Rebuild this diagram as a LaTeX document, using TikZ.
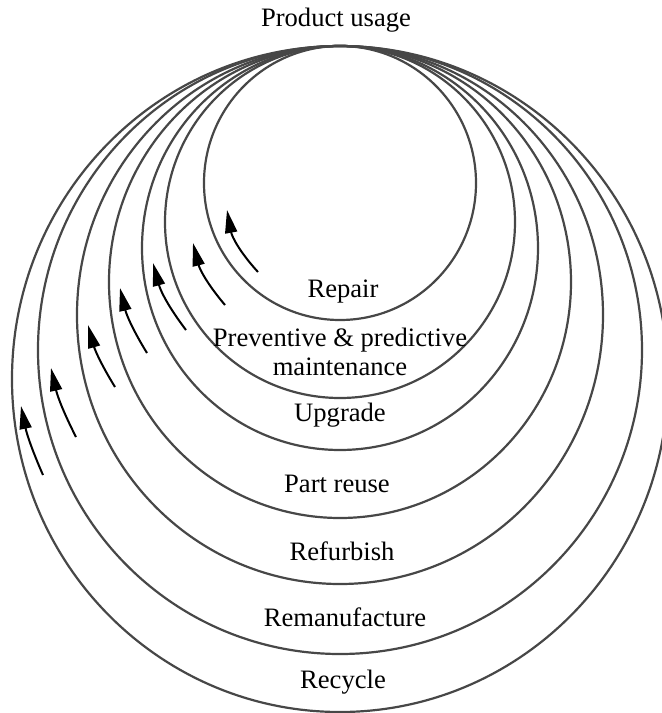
\documentclass[tikz,border=0pt]{standalone}
\usepackage{fontspec}
\setmainfont{Liberation Serif}
\usetikzlibrary{arrows.meta}
\begin{document}
\begin{tikzpicture}[x=0.5pt, y=0.5pt,
        ring/.style={draw=black!72, line width=1.1pt},
        lbl/.style={font=\fontsize{13.3}{14.5}\selectfont, inner sep=0pt, align=center},
        flow/.style={line width=1pt, -{Triangle[length=11.5pt, width=6pt]}}]
            \useasboundingbox (-340,46) rectangle (322,-667);

            \draw[ring] (0,-137) ellipse [x radius=136, y radius=137];
            \draw[ring] (0,-176) ellipse [x radius=175, y radius=176];
            \draw[ring] (0,-202) ellipse [x radius=198, y radius=202];
            \draw[ring] (0,-236) ellipse [x radius=231, y radius=236];
            \draw[ring] (0,-269) ellipse [x radius=263, y radius=269];
            \draw[ring] (0,-304) ellipse [x radius=302, y radius=304];
            \draw[ring] (0,-333) ellipse [x radius=328, y radius=333];

            \node[lbl] (PU) at (-4,26) {Product usage};
            \node[lbl] (RP) at (3,-246) {Repair};
            \node[lbl] (PM) at (0,-306) {Preventive \& predictive\\maintenance};
            \node[lbl] (UG) at (0,-369) {Upgrade};
            \node[lbl] (PR) at (-3,-438) {Part reuse};
            \node[lbl] (RF) at (2,-505) {Refurbish};
            \node[lbl] (RM) at (5,-571) {Remanufacture};
            \node[lbl] (RC) at (3,-636) {Recycle};

            \coordinate (T1) at (-82,-226);  \coordinate (H1) at (-113,-164);
            \coordinate (T2) at (-115,-259); \coordinate (H2) at (-147,-197);
            \coordinate (T3) at (-154,-284); \coordinate (H3) at (-187,-217);
            \coordinate (T4) at (-193,-307); \coordinate (H4) at (-220,-242);
            \coordinate (T5) at (-225,-341); \coordinate (H5) at (-252,-279);
            \coordinate (T6) at (-264,-391); \coordinate (H6) at (-289,-322);
            \coordinate (T7) at (-297,-429); \coordinate (H7) at (-319,-360);

            \draw[flow] (T1) to[bend left=16] (H1);
            \draw[flow] (T2) to[bend left=13] (H2);
            \draw[flow] (T3) to[bend left=11] (H3);
            \draw[flow] (T4) to[bend left=9] (H4);
            \draw[flow] (T5) to[bend left=8] (H5);
            \draw[flow] (T6) to[bend left=7] (H6);
            \draw[flow] (T7) to[bend left=6] (H7);
        \end{tikzpicture}
\end{document}
